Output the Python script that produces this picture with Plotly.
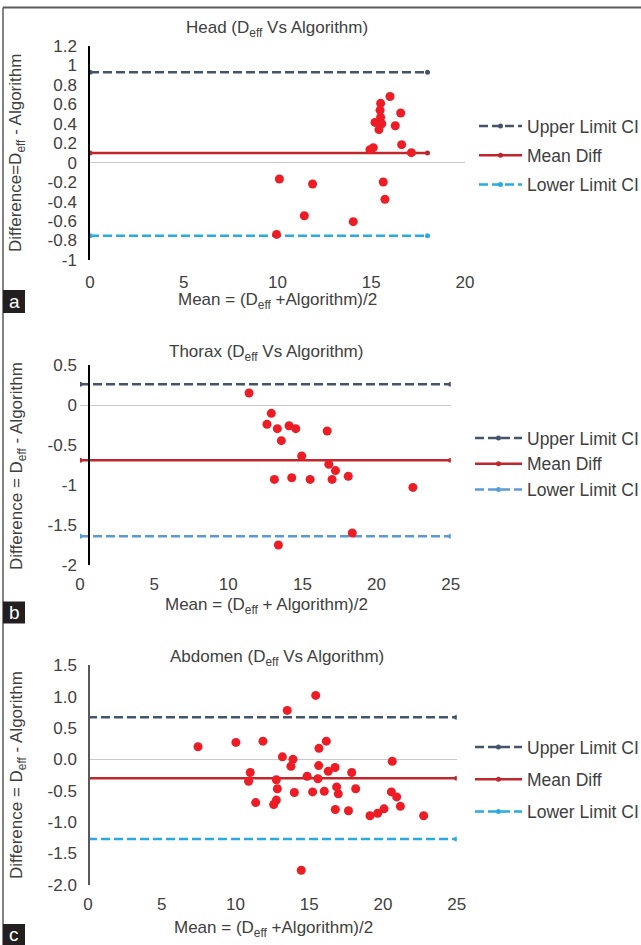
import plotly.graph_objects as go

W, H = 641, 945
FONT = "Liberation Sans, Arial, sans-serif"
TXT = "#404040"

# ---------------- data ----------------
head_x = [16.0, 15.50, 15.47, 16.57, 15.5, 15.2, 15.56, 15.41, 16.28, 16.62, 15.11, 14.93,
          17.14, 10.1, 11.87, 15.64, 15.73, 11.43, 14.04, 9.95]
head_y = [0.68, 0.61, 0.54, 0.51, 0.466, 0.414, 0.40, 0.34, 0.38, 0.185, 0.154, 0.134,
          0.103, -0.168, -0.219, -0.199, -0.377, -0.545, -0.606, -0.737]
head_line_x = [0, 18]
head_upper, head_mean, head_lower = 0.93, 0.10, -0.75

thorax_x = [11.40, 12.9, 12.61, 13.31, 14.10, 14.55, 13.58, 16.67, 14.95, 16.78, 17.23,
            18.09, 13.11, 14.28, 15.52, 17.0, 22.45, 18.36, 13.38]
thorax_y = [0.15, -0.104, -0.24, -0.296, -0.26, -0.296, -0.446, -0.325, -0.6375, -0.74,
            -0.82, -0.89, -0.93, -0.91, -0.93, -0.93, -1.03, -1.60, -1.75]
thorax_line_x = [0, 25]
thorax_upper, thorax_mean, thorax_lower = 0.26, -0.69, -1.64

abd_x = [7.46, 10.03, 11.86, 13.18, 13.9, 13.76, 11.0, 10.89, 12.77, 14.86, 12.84, 11.37,
         12.77, 12.59, 13.99, 14.46, 13.51, 15.44, 16.16, 15.66, 20.63, 15.64, 16.75, 16.29,
         17.88, 15.59, 15.23, 16.02, 16.86, 16.97, 18.15, 20.57, 20.93, 21.18, 16.77, 17.66,
         19.12, 19.64, 20.07, 22.76]
abd_y = [0.20, 0.27, 0.29, 0.04, 0.0, -0.11, -0.21, -0.35, -0.325, -0.27, -0.47, -0.69,
         -0.65, -0.72, -0.53, -1.77, 0.78, 1.02, 0.29, 0.175, -0.03, -0.10, -0.13, -0.19,
         -0.21, -0.31, -0.52, -0.51, -0.44, -0.55, -0.47, -0.52, -0.60, -0.75, -0.80, -0.82,
         -0.90, -0.86, -0.79, -0.90]
abd_line_x = [0, 25]
abd_upper, abd_mean, abd_lower = 0.67, -0.30, -1.27

head_yticks = [1.2, 1, 0.8, 0.6, 0.4, 0.2, 0, -0.2, -0.4, -0.6, -0.8, -1]
head_yticktext = ["1.2", "1", "0.8", "0.6", "0.4", "0.2", "0", "-0.2", "-0.4", "-0.6", "-0.8", "-1"]
head_xticks = [0, 5, 10, 15, 20]
thorax_yticks = [0.5, 0, -0.5, -1, -1.5, -2]
thorax_yticktext = ["0.5", "0", "-0.5", "-1", "-1.5", "-2"]
abd_yticks = [1.5, 1.0, 0.5, 0.0, -0.5, -1.0, -1.5, -2.0]
abd_yticktext = ["1.5", "1.0", "0.5", "0.0", "-0.5", "-1.0", "-1.5", "-2.0"]
x25_ticks = [0, 5, 10, 15, 20, 25]

legend_names = ["Upper Limit CI", "Mean Diff", "Lower Limit CI"]

# ---------------- helpers ----------------
def px_x(p):
    return p / W

def px_y(p):
    return 1 - p / H

fig = go.Figure()

panels = [
    dict(ax="", xs=head_x, ys=head_y, lx=head_line_x,
         lims=(head_upper, head_mean, head_lower), legend="legend",
         colors=("#44546A", "#C0272D", "#29ABE2")),
    dict(ax="2", xs=thorax_x, ys=thorax_y, lx=thorax_line_x,
         lims=(thorax_upper, thorax_mean, thorax_lower), legend="legend2",
         colors=("#44546A", "#C0272D", "#5B9BD5")),
    dict(ax="3", xs=abd_x, ys=abd_y, lx=abd_line_x,
         lims=(abd_upper, abd_mean, abd_lower), legend="legend3",
         colors=("#44546A", "#C0272D", "#29ABE2")),
]

for p in panels:
    xa, ya = "x" + p["ax"], "y" + p["ax"]
    for i, (name, val, col) in enumerate(zip(legend_names, p["lims"], p["colors"])):
        fig.add_trace(go.Scatter(
            x=p["lx"], y=[val, val], mode="lines+markers", name=name,
            line=dict(color=col, width=2.5, dash="solid" if i == 1 else "9px,4px"),
            marker=dict(color=col, size=5),
            xaxis=xa, yaxis=ya, legend=p["legend"], legendgroup=p["legend"] + str(i),
            hoverinfo="skip"))
    fig.add_trace(go.Scatter(
        x=p["xs"], y=p["ys"], mode="markers", showlegend=False,
        marker=dict(color="#EE1C24", size=9),
        xaxis=xa, yaxis=ya))

def yaxis(dom, rng, tv, tt, linecol):
    return dict(domain=dom, range=rng, tickvals=tv, ticktext=tt, showgrid=False,
                zeroline=True, zerolinecolor="#C8C8C8", zerolinewidth=1,
                showline=True, linecolor=linecol, linewidth=1.5, ticks="",
                tickfont=dict(family=FONT, size=17, color=TXT), ticklabelstandoff=8,
                fixedrange=True, automargin=False)

def xaxis(dom, rng, tv, anchor, standoff):
    return dict(domain=dom, range=rng, tickvals=tv, showgrid=False, zeroline=False,
                showline=False, ticks="", anchor=anchor,
                tickfont=dict(family=FONT, size=17, color=TXT), ticklabelstandoff=standoff,
                fixedrange=True, automargin=False)

layout = dict(
    width=W, height=H, margin=dict(l=0, r=0, t=0, b=0, autoexpand=False),
    paper_bgcolor="white", plot_bgcolor="white", showlegend=True,
    xaxis=xaxis([px_x(90), px_x(465)], [0, 20], head_xticks, "y", 10),
    yaxis=yaxis([px_y(260), px_y(45.9)], [-1, 1.2], head_yticks, head_yticktext, "#000000"),
    xaxis2=xaxis([px_x(80), px_x(450.7)], [0, 25], x25_ticks, "y2", 7),
    yaxis2=yaxis([px_y(565), px_y(365)], [-2, 0.5], thorax_yticks, thorax_yticktext, "#000000"),
    xaxis3=xaxis([px_x(88), px_x(456.7)], [0, 25], x25_ticks, "y3", 7),
    yaxis3=yaxis([px_y(884.7), px_y(665.3)], [-2, 1.5], abd_yticks, abd_yticktext, "#595959"),
)

def leg(x, ytop, gap, iw):
    return dict(x=px_x(x), y=px_y(ytop), xanchor="left", yanchor="top",
                font=dict(family=FONT, size=17.5, color=TXT), bgcolor="rgba(0,0,0,0)",
                tracegroupgap=gap, itemwidth=iw, traceorder="grouped")

layout["legend"] = leg(474, 108, 3.5, 43)
layout["legend2"] = leg(470, 420, 0, 47)
layout["legend3"] = leg(470, 729, 6.5, 47)
fig.update_layout(**layout)

ann = []
def text(x, y, s, size=17, angle=0):
    ann.append(dict(x=px_x(x), y=px_y(y), xref="paper", yref="paper", text=s,
                    showarrow=False, textangle=angle, xanchor="center", yanchor="middle",
                    font=dict(family=FONT, size=size, color=TXT)))

text(277, 29, "Head (D<sub>eff</sub> Vs Algorithm)")
text(277, 301, "Mean = (D<sub>eff</sub> +Algorithm)/2")
text(17, 153, "Difference=D<sub>eff</sub> - Algorithm", angle=-90)
text(266, 353, "Thorax (D<sub>eff</sub> Vs Algorithm)")
text(266, 606, "Mean = (D<sub>eff</sub> + Algorithm)/2")
text(18, 466, "Difference = D<sub>eff</sub> - Algorithm", angle=-90)
text(277, 658, "Abdomen (D<sub>eff</sub> Vs Algorithm)")
text(273, 929, "Mean = (D<sub>eff</sub> +Algorithm)/2")
text(18, 775, "Difference = D<sub>eff</sub> - Algorithm", angle=-90)

shapes = [
    dict(type="line", xref="paper", yref="paper", x0=px_x(3), x1=1, y0=px_y(7.5), y1=px_y(7.5),
         line=dict(color="#5A5A5A", width=2)),
    dict(type="line", xref="paper", yref="paper", x0=px_x(3), x1=px_x(3), y0=px_y(7.5), y1=0,
         line=dict(color="#5A5A5A", width=1.5)),
]
for lab, y0, y1 in [("a", 290, 313), ("b", 601.5, 623.5), ("c", 924, 945)]:
    shapes.append(dict(type="rect", xref="paper", yref="paper", x0=px_x(3), x1=px_x(25),
                       y0=px_y(y1), y1=px_y(y0), fillcolor="#231F20", line=dict(width=0)))
    ann.append(dict(x=px_x(14), y=px_y((y0 + y1) / 2), xref="paper", yref="paper", text=lab,
                    showarrow=False, xanchor="center", yanchor="middle",
                    font=dict(family=FONT, size=19, color="white")))

fig.update_layout(annotations=ann, shapes=shapes)
fig.write_html("out.html", config={"displayModeBar": False},
               post_script="document.body.style.margin='0';document.body.style.overflow='hidden';")
